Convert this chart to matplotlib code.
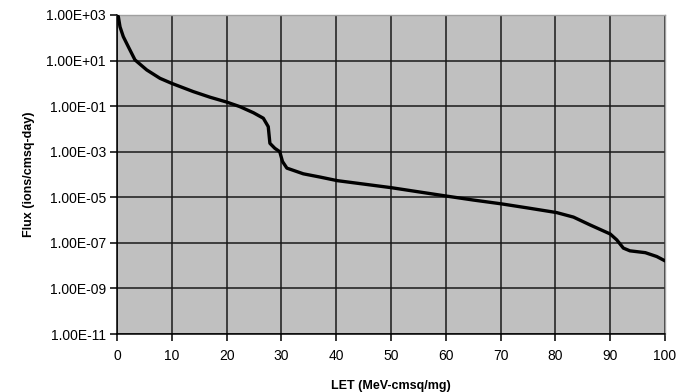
import matplotlib
matplotlib.use("Agg")
import matplotlib.pyplot as plt
from matplotlib.ticker import FixedLocator, FixedFormatter, NullLocator

# LET (MeV-cmsq/mg) vs log10 flux (ions/cmsq-day)
let_values = [0.0, 0.24, 0.55, 1.15, 2.06, 3.28, 5.42, 7.85, 9.98, 13.9, 17.0, 20.0,
              22.4, 24.9, 26.7, 27.6, 27.9, 28.8, 29.7, 30.2, 31.0, 34.0, 37.0,
              40.2, 45.0, 50.1, 55.0, 60.2, 65.0, 70.2, 75.0, 80.2, 83.3, 86.3,
              90.0, 91.2, 92.4, 93.6, 96.4, 98.5, 100.0]
log_flux = [3.0, 2.93, 2.48, 2.05, 1.61, 1.03, 0.59, 0.22, 0.0, -0.36, -0.61, -0.82,
            -1.02, -1.29, -1.53, -1.90, -2.63, -2.85, -3.0, -3.43, -3.72, -3.97, -4.11,
            -4.27, -4.42, -4.58, -4.76, -4.95, -5.12, -5.29, -5.47, -5.67, -5.87, -6.21,
            -6.61, -6.87, -7.23, -7.35, -7.43, -7.6, -7.79]
flux = [10.0 ** v for v in log_flux]

y_tick_values = [1e3, 1e1, 1e-1, 1e-3, 1e-5, 1e-7, 1e-9, 1e-11]
y_tick_labels = ["1.00E+03", "1.00E+01", "1.00E-01", "1.00E-03",
                 "1.00E-05", "1.00E-07", "1.00E-09", "1.00E-11"]
x_tick_values = [0, 10, 20, 30, 40, 50, 60, 70, 80, 90, 100]

plt.rcParams['font.family'] = ['Liberation Sans', 'DejaVu Sans']

fig = plt.figure(figsize=(6.85, 3.92), dpi=100)
ax = fig.add_axes([117/685, 1-334/392, (665-117)/685, (334-15)/392])
ax.set_facecolor('#c0c0c0')

ax.plot(let_values, flux, color='black', lw=2.4, solid_joinstyle='round',
        solid_capstyle='round', zorder=3)

ax.set_yscale('log')
ax.set_xlim(0, 100)
ax.set_ylim(1e-11, 1e3)
ax.yaxis.set_major_locator(FixedLocator(y_tick_values))
ax.yaxis.set_major_formatter(FixedFormatter(y_tick_labels))
ax.yaxis.set_minor_locator(NullLocator())
ax.set_xticks(x_tick_values)

ax.grid(True, which='major', color='#1a1a1a', lw=1.1)
ax.set_axisbelow(True)

ax.tick_params(axis='both', which='major', direction='out', length=5, width=1.1,
               color='black', labelsize=10, pad=3)
ax.tick_params(axis='x', pad=6)
for s in ['left', 'bottom']:
    ax.spines[s].set_color('black')
    ax.spines[s].set_linewidth(1.1)
for s in ['top', 'right']:
    ax.spines[s].set_color('#a0a0a0')
    ax.spines[s].set_linewidth(1.0)

ax.set_xlabel('LET (MeV-cmsq/mg)', fontsize=9, fontweight='bold', labelpad=12)
ax.set_ylabel('Flux (ions/cmsq-day)', fontsize=9, fontweight='bold', labelpad=8)

fig.savefig('out.png', dpi=100)
